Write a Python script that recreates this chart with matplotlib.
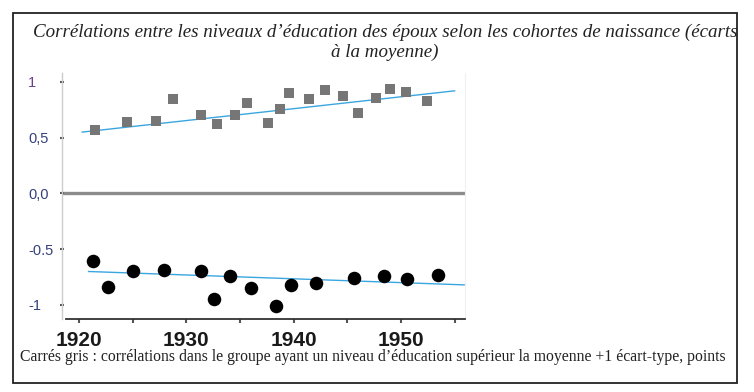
import numpy as np
import matplotlib
matplotlib.use('Agg')
import matplotlib.pyplot as plt
from matplotlib.patches import Rectangle

# gray squares : high education group
sq_years=[1921.5,1924.5,1927.2,1928.8,1931.4,1932.9,1934.5,1935.7,1937.6,1938.7,
          1939.6,1941.4,1942.9,1944.6,1946.0,1947.7,1949.0,1950.5,1952.4]
sq_corr=[0.57,0.64,0.65,0.85,0.70,0.62,0.70,0.81,0.63,0.76,
         0.90,0.85,0.93,0.87,0.72,0.86,0.94,0.91,0.83]
# black dots : low education group
dot_years=[1921.3,1922.7,1925.0,1927.9,1931.4,1932.6,1934.1,1936.0,1938.4,1939.8,
           1942.1,1945.6,1948.4,1950.6,1953.5]
dot_corr=[-0.61,-0.84,-0.70,-0.69,-0.70,-0.95,-0.74,-0.85,-1.01,-0.82,
          -0.80,-0.76,-0.74,-0.77,-0.73]
# trend lines (end points)
trend_up_x=[1920.3,1955.0]
trend_up_y=[0.55,0.92]
trend_low_x=[1920.9,1955.9]
trend_low_y=[-0.70,-0.82]

xticks=[1920,1925,1930,1935,1940,1945,1950,1955]
xlabels=['1920','','1930','','1940','','1950','']
yticks=[1,0.5,0,-0.5,-1]
ylabels=['1','0,5','0,0','-0.5','-1']

title='Corrélations entre les niveaux d\u2019éducation des époux selon les cohortes de naissance (écarts\nà la moyenne)'
caption='Carrés gris : corrélations dans le groupe ayant un niveau d\u2019éducation supérieur la moyenne +1 écart-type, points'

fig=plt.figure(figsize=(7.54,3.92),dpi=100)
W,H=754,392

# outer frame
fig.patches.append(Rectangle((13/W,1-383/H),(737-13)/W,(383-13)/H,transform=fig.transFigure,
                             fill=False,edgecolor='#222222',linewidth=1.3))

fig.text(385/W,1-42/H,title,ha='center',va='center',family='Liberation Serif',
         style='italic',fontsize=13.7,color='#222222',linespacing=1.2)
fig.text(20/W,1-357/H,caption,ha='left',va='center',family='Liberation Serif',
         fontsize=11.3,color='#222222')

ax=fig.add_axes([62/W,1-319/H,(465-62)/W,(319-73)/H])
ax.axhline(0,color='#8c8c8c',linewidth=2.4,zorder=1)
ax.plot(trend_up_x,trend_up_y,color='#3aa6e0',linewidth=1,zorder=2)
ax.plot(trend_low_x,trend_low_y,color='#3aa6e0',linewidth=1,zorder=2)
ax.scatter(sq_years,sq_corr,marker='s',s=62,color='#767676',zorder=3,linewidths=0)
ax.scatter(dot_years,dot_corr,marker='o',s=95,color='black',zorder=3,linewidths=0)

ax.set_xlim(1918.42,1955.97)
ax.set_ylim(-1.126,1.08)

ax.spines['top'].set_visible(False)
ax.spines['right'].set_color('#f0f0f0')
ax.spines['left'].set_color('#cccccc')
ax.spines['left'].set_linewidth(1)
ax.spines['bottom'].set_color('#333333')
ax.spines['bottom'].set_linewidth(1.3)
ax.spines['bottom'].set_bounds(1918.8,1955.97)

ax.set_xticks(xticks)
ax.set_xticklabels(xlabels,family='Liberation Sans',fontsize=15,fontweight='bold',color='#1a1a1a')
ax.tick_params(axis='x',direction='out',length=3,width=1.5,color='#555555',pad=6)

ax.set_yticks(yticks)
ax.set_yticklabels(ylabels,family='Liberation Sans',fontsize=10.5,ha='left')
for t,c in zip(ax.get_yticklabels(),['#6b3f8f','#34407a','#34407a','#34407a','#34407a']):
    t.set_color(c)
ax.tick_params(axis='y',direction='inout',length=3,width=1.5,color='#555555',pad=23)

plt.savefig('out.png',dpi=100)
